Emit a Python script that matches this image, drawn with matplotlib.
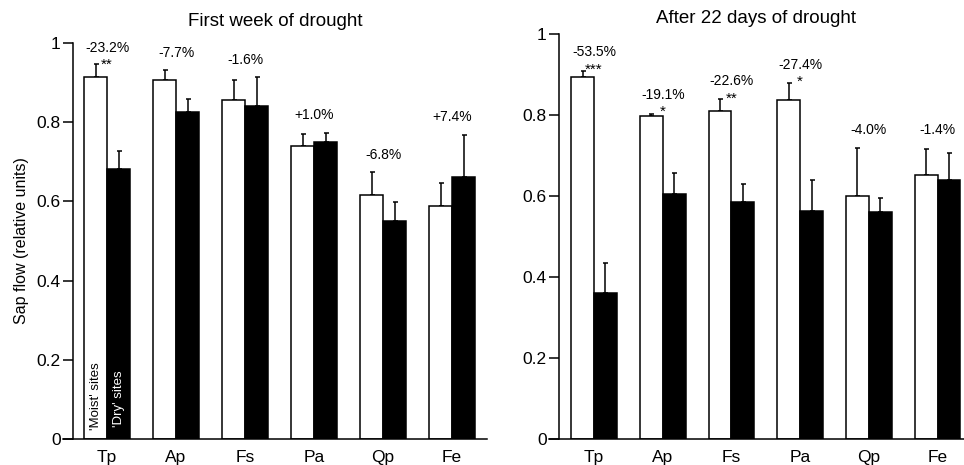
import matplotlib
matplotlib.use('Agg')
import matplotlib.pyplot as plt
import numpy as np

plt.rcParams['font.family'] = ['Liberation Sans', 'DejaVu Sans']

species = ['Tp', 'Ap', 'Fs', 'Pa', 'Qp', 'Fe']

# first week of drought
moist_wk1 = [0.915, 0.906, 0.857, 0.739, 0.617, 0.589]
moist_wk1_err = [0.031, 0.026, 0.050, 0.030, 0.056, 0.058]
dry_wk1 = [0.681, 0.827, 0.841, 0.749, 0.550, 0.662]
dry_wk1_err = [0.046, 0.031, 0.074, 0.023, 0.049, 0.106]
pct_wk1 = ['-23.2%', '-7.7%', '-1.6%', '+1.0%', '-6.8%', '+7.4%']
stars_wk1 = ['**', '', '', '', '', '']

# after 22 days
moist_d22 = [0.894, 0.797, 0.811, 0.837, 0.600, 0.652]
moist_d22_err = [0.015, 0.006, 0.028, 0.041, 0.118, 0.064]
dry_d22 = [0.360, 0.606, 0.585, 0.564, 0.560, 0.639]
dry_d22_err = [0.075, 0.050, 0.044, 0.075, 0.034, 0.067]
pct_d22 = ['-53.5%', '-19.1%', '-22.6%', '-27.4%', '-4.0%', '-1.4%']
stars_d22 = ['***', '*', '**', '*', '', '']

W, H = 964, 465
fig = plt.figure(figsize=(W / 100, H / 100), dpi=100)

bw = 1 / 3
lw = 1.1


def panel(rect, spine_x, xlim, moist, moist_err, dry, dry_err, pct, stars,
          pct_y, star_y, title, title_pad, ylabel=None):
    ax = fig.add_axes(rect)
    x = np.arange(len(species))
    ax.bar(x - bw / 2, moist, bw, color='white', edgecolor='black', linewidth=lw, zorder=2)
    ax.bar(x + bw / 2, dry, bw, color='black', edgecolor='black', linewidth=lw, zorder=2)
    z = np.zeros(len(species))
    ax.errorbar(x - bw / 2, moist, yerr=[z, moist_err], fmt='none', ecolor='black',
                elinewidth=lw, capsize=1.8, capthick=lw, zorder=1)
    ax.errorbar(x + bw / 2, dry, yerr=[z, dry_err], fmt='none', ecolor='black',
                elinewidth=lw, capsize=1.8, capthick=lw, zorder=1)
    for i in range(len(species)):
        ax.text(x[i], pct_y[i], pct[i], ha='center', va='center', fontsize=10, clip_on=False)
        if stars[i]:
            ax.text(x[i], star_y[i], stars[i], ha='center', va='center', fontsize=11,
                    clip_on=False)
    ax.set_xlim(*xlim)
    ax.set_ylim(0, 1)
    ax.spines['top'].set_visible(False)
    ax.spines['right'].set_visible(False)
    ax.spines['left'].set_position(('data', spine_x))
    ax.spines['left'].set_bounds(0, 1)
    for s in ('left', 'bottom'):
        ax.spines[s].set_linewidth(lw)
    ax.set_yticks([0, 0.2, 0.4, 0.6, 0.8, 1])
    ax.set_yticklabels(['0', '0.2', '0.4', '0.6', '0.8', '1'])
    ax.tick_params(axis='y', length=7, width=lw, labelsize=12.5, pad=2)
    ax.set_xticks(x)
    ax.set_xticklabels(species)
    ax.tick_params(axis='x', length=0, labelsize=12.5, pad=8)
    ax.set_title(title, fontsize=13.5, pad=title_pad)
    if ylabel:
        ax.set_ylabel(ylabel, fontsize=11.5, labelpad=5)
    return ax


ax1 = panel([63 / W, 1 - 439 / H, (487 - 63) / W, (439 - 43) / H], -0.493,
            (-0.638, 5.507), moist_wk1, moist_wk1_err, dry_wk1, dry_wk1_err,
            pct_wk1, stars_wk1,
            [0.987, 0.975, 0.957, 0.818, 0.717, 0.813],
            [0.944, 0, 0, 0, 0, 0],
            'First week of drought', 12, 'Sap flow (relative units)')
ax1.text(-bw / 2, 0.022, "'Moist' sites", rotation=90, ha='center', va='bottom',
         fontsize=9.5, color='black')
ax1.text(bw / 2, 0.03, "'Dry' sites", rotation=90, ha='center', va='bottom',
         fontsize=9.5, color='white')

ax2 = panel([549 / W, 1 - 439 / H, (964 - 549) / W, (439 - 34) / H], -0.509,
            (-0.655, 5.385), moist_d22, moist_d22_err, dry_d22, dry_d22_err,
            pct_d22, stars_d22,
            [0.956, 0.849, 0.885, 0.923, 0.763, 0.763],
            [0.912, 0.808, 0.841, 0.881, 0, 0],
            'After 22 days of drought', 8)

fig.savefig('out.png', dpi=100)
